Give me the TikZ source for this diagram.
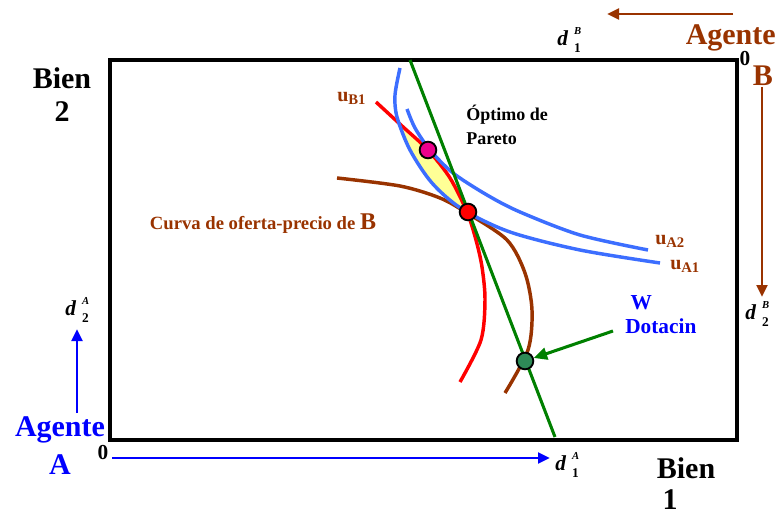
\documentclass[tikz,border=0pt]{standalone}
\usepackage{fontspec}
\setmainfont{Liberation Serif}
\usetikzlibrary{arrows.meta}
\definecolor{brn}{RGB}{153,51,0}
\definecolor{txtblue}{RGB}{0,0,255}
\definecolor{cblue}{RGB}{60,110,255}
\definecolor{grn}{RGB}{0,128,0}
\definecolor{dotg}{RGB}{46,139,87}
\definecolor{yel}{RGB}{255,255,150}
\newcommand{\dlbl}[2]{d\kern4.5pt\rlap{\raisebox{8.5pt}{\fontsize{8}{9}\selectfont\textit{#2}}}\raisebox{-5pt}{\upshape\fontsize{10}{11}\selectfont #1}}
\begin{document}
\begin{tikzpicture}[x=0.75pt,y=-0.75pt,font=\bfseries,
  lbl/.style={inner sep=0pt},
  big/.style={inner sep=0pt,font=\fontsize{22.5}{24}\selectfont\bfseries},
  crv/.style={line width=2.6pt},
  arr/.style={line width=2.2pt,-{Triangle[length=9pt,width=8pt]}},
  dotn/.style={circle,draw=black,line width=1.4pt,minimum size=12.5pt,inner sep=0pt},
  dlab/.style={inner sep=0pt,font=\fontsize{16}{18}\selectfont\bfseries\itshape}]
\useasboundingbox (0,0) rectangle (776,517);
% box
\draw[line width=3pt] (110,60) rectangle (737,440);
% yellow lens
\fill[yel] plot[smooth] coordinates {(400,124) (414,138) (428,150) (450,178) (467,212)}
  -- plot[smooth] coordinates {(467,212) (457,207) (432,183) (410,150) (400,124)} -- cycle;
% curves
\draw[crv,red] plot[smooth] coordinates {(376,102) (402,126) (428,150) (450,178) (467,212) (476,240) (482,267) (485,300) (481,340) (460,382)};
\draw[crv,brn] plot[smooth] coordinates {(337,178) (400,186) (440,198) (467,213) (507,240) (525,273) (532,310) (528,350) (505,393)};
\draw[crv,cblue] plot[smooth] coordinates {(400,68) (395,95) (397,117) (410,150) (432,183) (462,209) (510,232) (580,250) (660,263)};
\draw[crv,cblue] plot[smooth] coordinates {(407,109) (415,128) (430,150) (453,173) (487,195) (520,212) (580,235) (648,250)};
% green line
\coordinate (gtop) at (410,60);
\coordinate (gbot) at (555,437);
\draw[grn,line width=2.3pt] (gtop) -- (gbot);
% dots
\node[dotn,fill=magenta] (pink) at (428,150) {};
\node[dotn,fill=red] (opt) at (468,212) {};
\node[dotn,fill=dotg] (endow) at (525,361) {};
% labels
\node[big] (bien2a) at (62,78) {Bien};
\node[big] (bien2b) at (62,112) {2};
\node[big] (bien1a) at (686,468) {Bien};
\node[big] (bien1b) at (670,500) {1};
\node[big,text=brn,anchor=east] (agB) at (776,38) {Agente};
\node[big,text=brn] (agBl) at (763,76) {B};
\node[big,text=txtblue] (agA) at (60,430) {Agente};
\node[big,text=txtblue] (agAl) at (60,465) {A};
\node[lbl,font=\fontsize{16}{18}\selectfont\bfseries] (zB) at (745,59) {0};
\node[lbl,font=\fontsize{16}{18}\selectfont\bfseries] (zA) at (103,453) {0};
% d labels
\node[dlab] (d1B) at (569,40) {\dlbl{1}{B}};
\node[dlab] (d2B) at (757,314) {\dlbl{2}{B}};
\node[dlab] (d2A) at (77,310) {\dlbl{2}{A}};
\node[dlab] (d1A) at (567,465) {\dlbl{1}{A}};
% axis arrows
\coordinate (aBs) at (733,14); \coordinate (aBe) at (607,14);
\draw[arr,brn] (aBs) -- (aBe);
\coordinate (bBs) at (762,87); \coordinate (bBe) at (762,297);
\draw[arr,brn] (bBs) -- (bBe);
\coordinate (aAs) at (77,413); \coordinate (aAe) at (77,329);
\draw[arr,txtblue] (aAs) -- (aAe);
\coordinate (bAs) at (112,458); \coordinate (bAe) at (550,458);
\draw[arr,txtblue] (bAs) -- (bAe);
% texts in plot
\node[lbl,text=brn,font=\fontsize{14}{16}\selectfont\bfseries] (curva) at (263,224) {Curva de oferta-precio de {\fontsize{18}{20}\selectfont B}};
\node[lbl,text=brn,anchor=west,font=\fontsize{15}{16}\selectfont\bfseries] (uB1) at (337,98) {u$_{\textbf{\fontsize{11}{12}\selectfont B1}}$};
\node[lbl,text=brn,anchor=west,font=\fontsize{15}{16}\selectfont\bfseries] (uA2) at (655,241) {u$_{\textbf{\fontsize{11}{12}\selectfont A2}}$};
\node[lbl,text=brn,anchor=west,font=\fontsize{15}{16}\selectfont\bfseries] (uA1) at (670,266) {u$_{\textbf{\fontsize{11}{12}\selectfont A1}}$};
\node[lbl,anchor=west,align=left,font=\fontsize{13.5}{17.5}\selectfont\bfseries] (pareto) at (466,125) {Óptimo de\\Pareto};
\node[lbl,text=txtblue,anchor=west,align=left,font=\fontsize{16}{18}\selectfont\bfseries] (dot) at (625,315) {\hspace*{4pt}W\\Dotacin};
\draw[grn,line width=2.3pt,-{Triangle[length=10pt,width=9pt]}] (613,331) -- (endow);
\end{tikzpicture}
\end{document}
